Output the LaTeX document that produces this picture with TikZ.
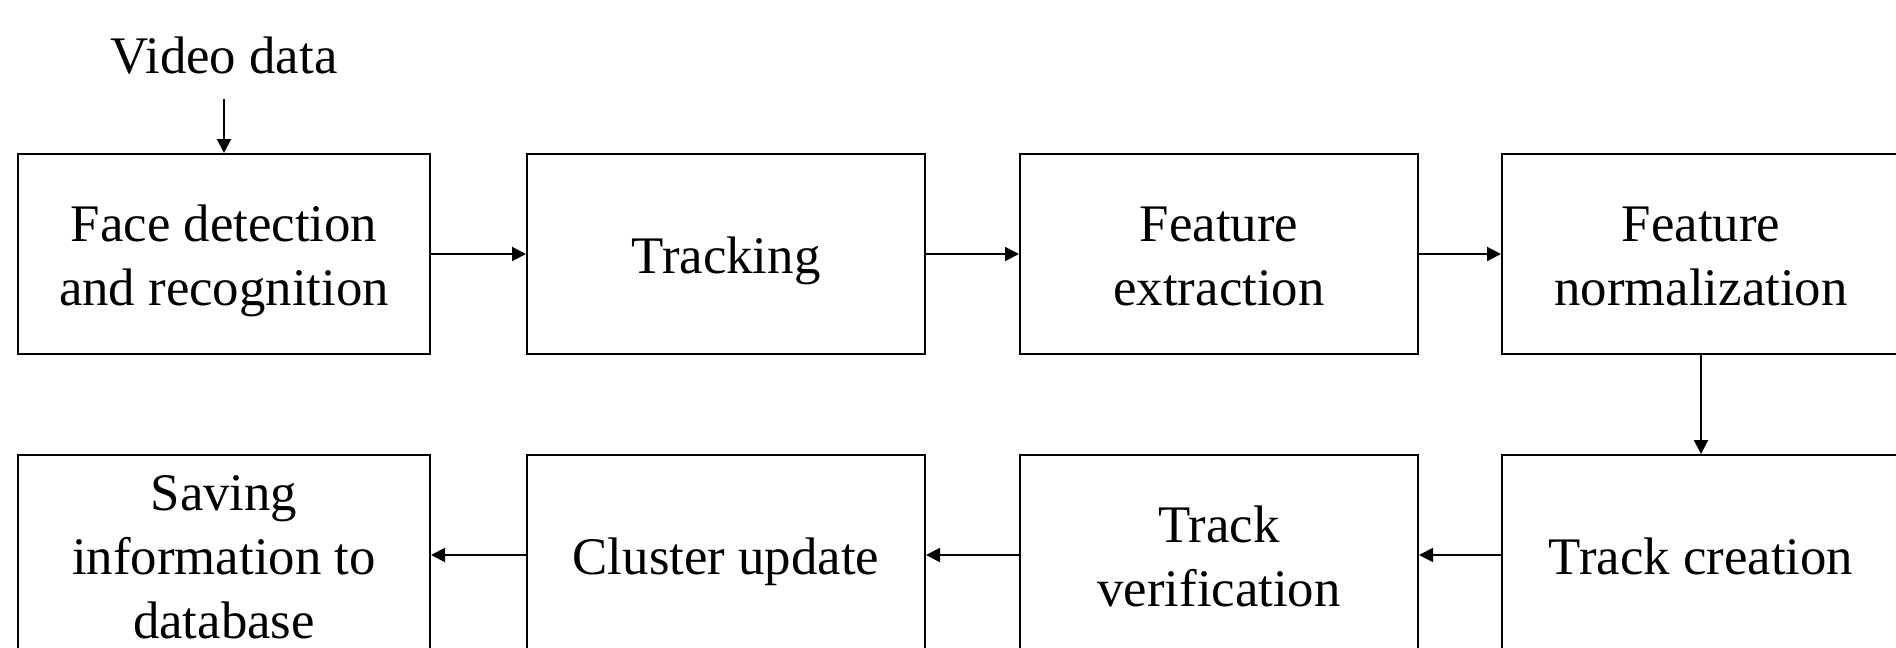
\documentclass[tikz,border=0pt]{standalone}
\usepackage{fontspec}
\setmainfont{Liberation Serif}
\usetikzlibrary{arrows.meta}
\newcommand{\topstr}{\rule{0pt}{27.4pt}}
\newcommand{\botstr}{\rule[-8.2pt]{0pt}{8.2pt}}
\begin{document}
\begin{tikzpicture}[x=0.5pt,y=-0.5pt,
  box/.style={draw, line width=1pt, minimum width=199pt, minimum height=100pt, align=center, inner sep=0pt,
    font=\fontsize{26.4}{32}\selectfont},
  wide/.style={minimum width=206pt},
  lbl/.style={font=\fontsize{26.4}{32}\selectfont, inner sep=0pt},
  arr/.style={-{Triangle[length=7pt,width=7pt]}, line width=1pt}]
\useasboundingbox (0,0) rectangle (1896,648);
\node[box, wide] (b1) at (224,254) {\topstr Face detection\\and recognition\botstr};
\node[box] (b2) at (726,254) {\topstr Tracking\botstr};
\node[box] (b3) at (1219,254) {\topstr Feature\\extraction\botstr};
\node[box] (b4) at (1701,254) {\topstr Feature\\normalization\botstr};
\node[box, wide] (c1) at (224,555) {\topstr Saving\\information to\\database\botstr};
\node[box] (c2) at (726,555) {\topstr Cluster update\botstr};
\node[box] (c3) at (1219,555) {\topstr Track\\verification\botstr};
\node[box] (c4) at (1701,555) {\topstr Track creation\botstr};
\node[lbl] (vd) at (224,56) {Video data};
\coordinate (vs) at (224,99);
\draw[arr] (vs) -- (b1.north);
\draw[arr] (b1.east) -- (b2.west);
\draw[arr] (b2.east) -- (b3.west);
\draw[arr] (b3.east) -- (b4.west);
\draw[arr] (b4.south) -- (c4.north);
\draw[arr] (c4.west) -- (c3.east);
\draw[arr] (c3.west) -- (c2.east);
\draw[arr] (c2.west) -- (c1.east);
\end{tikzpicture}
\end{document}
